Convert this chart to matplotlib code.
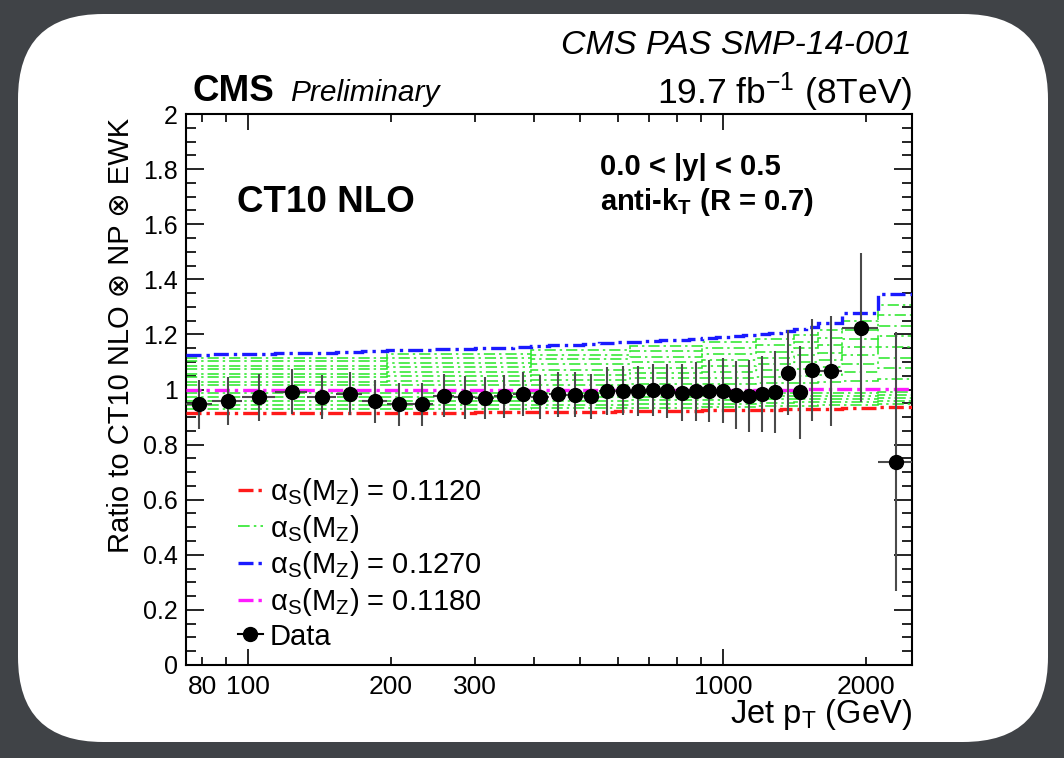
import matplotlib
matplotlib.use('Agg')
import matplotlib.pyplot as plt
from matplotlib.patches import FancyBboxPatch, Rectangle
from matplotlib.lines import Line2D
from matplotlib.ticker import MultipleLocator
import numpy as np

plt.rcParams['font.family'] = ['Liberation Sans', 'DejaVu Sans']
plt.rcParams['mathtext.fontset'] = 'custom'
plt.rcParams['mathtext.rm'] = 'Liberation Sans'
plt.rcParams['mathtext.it'] = 'Liberation Sans:italic'
plt.rcParams['mathtext.bf'] = 'Liberation Sans:bold'

# ---------------- data ----------------
bin_edges = [74, 84, 97, 114, 133, 153, 174, 196, 220, 245, 272, 300, 330, 362,
             395, 430, 468, 507, 548, 592, 638, 686, 737, 790, 846, 905, 967,
             1032, 1101, 1172, 1248, 1327, 1410, 1497, 1588, 1784, 2116, 2500]

data_ratio = [0.946, 0.958, 0.971, 0.992, 0.974, 0.984, 0.958, 0.947, 0.946,
              0.978, 0.971, 0.969, 0.976, 0.983, 0.974, 0.982, 0.981, 0.975,
              0.994, 0.996, 0.994, 0.998, 0.995, 0.989, 0.994, 0.994, 0.995,
              0.980, 0.976, 0.983, 0.990, 1.061, 0.990, 1.070, 1.068, 1.224,
              0.738]
data_err = [0.088, 0.086, 0.084, 0.082, 0.080, 0.078, 0.078, 0.078, 0.078,
            0.078, 0.077, 0.077, 0.078, 0.080, 0.080, 0.082, 0.082, 0.083,
            0.088, 0.090, 0.092, 0.095, 0.098, 0.102, 0.107, 0.112, 0.118,
            0.122, 0.130, 0.138, 0.148, 0.155, 0.168, 0.185, 0.200, 0.270,
            0.470]

as_1120 = [0.913, 0.913, 0.914, 0.914, 0.914, 0.915, 0.915, 0.915, 0.916,
           0.916, 0.916, 0.917, 0.917, 0.918, 0.918, 0.919, 0.919, 0.920,
           0.920, 0.921, 0.921, 0.922, 0.922, 0.923, 0.923, 0.924, 0.924,
           0.925, 0.926, 0.926, 0.927, 0.928, 0.928, 0.929, 0.930, 0.932,
           0.937]
as_1270 = [1.126, 1.128, 1.130, 1.132, 1.134, 1.136, 1.139, 1.142, 1.144,
           1.146, 1.148, 1.150, 1.152, 1.155, 1.158, 1.160, 1.163, 1.166,
           1.168, 1.171, 1.174, 1.176, 1.179, 1.181, 1.184, 1.187, 1.190,
           1.193, 1.197, 1.202, 1.206, 1.214, 1.220, 1.228, 1.242, 1.278,
           1.347]
as_1180 = [1.000, 1.000, 1.000, 1.000, 1.000, 1.000, 1.000, 1.000, 1.000,
           1.000, 1.000, 1.000, 1.000, 1.000, 1.000, 1.000, 1.000, 1.000,
           1.000, 1.000, 1.000, 1.000, 1.000, 1.000, 1.000, 1.000, 1.000,
           1.000, 1.000, 1.000, 1.000, 1.000, 1.000, 1.001, 1.001, 1.001,
           1.002]

# intermediate alpha_s variations (drawn on coarser pT segments)
green_edges = [74, 196, 395, 638, 905, 1172, 1410, 1588, 1784, 2116, 2500]
as_1130 = [0.928, 0.930, 0.932, 0.934, 0.937, 0.939, 0.941, 0.942, 0.943, 0.948]
as_1140 = [0.943, 0.944, 0.945, 0.947, 0.949, 0.951, 0.953, 0.953, 0.955, 0.958]
as_1150 = [0.957, 0.958, 0.959, 0.961, 0.962, 0.964, 0.965, 0.965, 0.966, 0.969]
as_1160 = [0.971, 0.972, 0.973, 0.974, 0.975, 0.976, 0.976, 0.977, 0.977, 0.979]
as_1170 = [0.986, 0.986, 0.986, 0.987, 0.987, 0.988, 0.988, 0.988, 0.989, 0.990]
as_1190 = [1.015, 1.016, 1.018, 1.020, 1.021, 1.023, 1.025, 1.027, 1.031, 1.039]
as_1200 = [1.029, 1.032, 1.036, 1.040, 1.043, 1.046, 1.050, 1.054, 1.062, 1.077]
as_1210 = [1.044, 1.049, 1.054, 1.059, 1.064, 1.069, 1.075, 1.081, 1.093, 1.116]
as_1220 = [1.058, 1.065, 1.072, 1.079, 1.085, 1.092, 1.100, 1.108, 1.124, 1.154]
as_1230 = [1.073, 1.081, 1.091, 1.099, 1.107, 1.114, 1.124, 1.134, 1.154, 1.193]
as_1240 = [1.087, 1.097, 1.109, 1.119, 1.128, 1.137, 1.149, 1.161, 1.185, 1.231]
as_1250 = [1.102, 1.114, 1.127, 1.138, 1.149, 1.160, 1.174, 1.188, 1.216, 1.270]
as_1260 = [1.116, 1.130, 1.145, 1.158, 1.171, 1.183, 1.199, 1.215, 1.247, 1.308]
green_series = [as_1130, as_1140, as_1150, as_1160, as_1170, as_1190, as_1200,
                as_1210, as_1220, as_1230, as_1240, as_1250, as_1260]

legend_labels = [r'α$_{\mathrm{S}}$(M$_{\mathrm{Z}}$) = 0.1120',
                 r'α$_{\mathrm{S}}$(M$_{\mathrm{Z}}$)',
                 r'α$_{\mathrm{S}}$(M$_{\mathrm{Z}}$) = 0.1270',
                 r'α$_{\mathrm{S}}$(M$_{\mathrm{Z}}$) = 0.1180',
                 'Data']

y_ticks = [0, 0.2, 0.4, 0.6, 0.8, 1.0, 1.2, 1.4, 1.6, 1.8, 2.0]
y_ticklabels = ['0', '0.2', '0.4', '0.6', '0.8', '1', '1.2', '1.4', '1.6', '1.8', '2']
x_major = [100, 1000]
x_major_labels = ['100', '1000']
x_minor = [80, 90, 200, 300, 400, 500, 600, 700, 800, 900, 2000]
x_minor_labels = ['80', '', '200', '300', '', '', '', '', '', '', '2000']

# ---------------- figure ----------------
W, H = 1064, 758
fig = plt.figure(figsize=(W / 100, H / 100), dpi=100)
bg = fig.add_axes([0, 0, 1, 1], zorder=0)
bg.set_xlim(0, W)
bg.set_ylim(H, 0)
bg.axis('off')
bg.add_patch(Rectangle((0, 0), W, H, facecolor='#404347', edgecolor='none'))
bg.add_patch(FancyBboxPatch((18, 14), 1030, 728,
                            boxstyle='round,pad=0,rounding_size=85',
                            facecolor='white', edgecolor='none'))

L, R, T, B = 186, 912, 114, 665
ax = fig.add_axes([L / W, 1 - B / H, (R - L) / W, (B - T) / H], zorder=1)
ax.set_xscale('log')
ax.set_xlim(bin_edges[0], bin_edges[-1])
ax.set_ylim(0, 2)

thick_dash = (0, (4.5, 1.5, 1.0, 1.5))
thin_dash = (0, (7, 2.5, 1.5, 2.5))
green_col = '#2ee82e'

for g in green_series:
    ax.stairs(g, green_edges, baseline=None, color=green_col, lw=1.15,
              linestyle=thin_dash, zorder=2)
ax.stairs(as_1120, bin_edges, baseline=None, color='#ff1a1a', lw=2.4,
          linestyle=thick_dash, zorder=3)
ax.stairs(as_1270, bin_edges, baseline=None, color='#1a1aff', lw=2.4,
          linestyle=thick_dash, zorder=3)
ax.stairs(as_1180, bin_edges, baseline=None, color='#ff1aff', lw=2.4,
          linestyle=thick_dash, zorder=3)

edges = np.array(bin_edges, dtype=float)
lo, hi = edges[:-1], edges[1:]
xc = 0.5 * (lo + hi)
ax.errorbar(xc, data_ratio, yerr=data_err, xerr=[xc - lo, hi - xc], fmt='o',
            color='black', ms=10, ecolor='#4a4a4a', elinewidth=1.5,
            capsize=0, zorder=5)

# ticks
ax.tick_params(which='both', direction='in', top=True, right=True,
               width=1.2, colors='black')
ax.tick_params(axis='y', which='major', length=13, labelsize=18, pad=6)
ax.tick_params(axis='y', which='minor', length=7)
ax.tick_params(axis='x', which='major', length=11.5, labelsize=19, pad=7)
ax.tick_params(axis='x', which='minor', length=5.5, labelsize=19, pad=7)
ax.set_yticks(y_ticks, labels=y_ticklabels)
ax.yaxis.set_minor_locator(MultipleLocator(0.05))
ax.set_xticks(x_major, labels=x_major_labels)
ax.set_xticks(x_minor, labels=x_minor_labels, minor=True)
for s in ax.spines.values():
    s.set_linewidth(1.5)

# legend
handles = [Line2D([], [], color='#ff1a1a', lw=2.4, ls=thick_dash),
           Line2D([], [], color=green_col, lw=1.2, ls=thin_dash),
           Line2D([], [], color='#1a1aff', lw=2.4, ls=thick_dash),
           Line2D([], [], color='#ff1aff', lw=2.4, ls=thick_dash),
           Line2D([], [], color='black', lw=1.5, marker='o', ms=10)]
ax.legend(handles, legend_labels, loc='upper left', bbox_to_anchor=(238, 476),
          bbox_transform=bg.transData, frameon=False, fontsize=21,
          handlelength=0.85, handletextpad=0.25, labelspacing=0.16,
          borderpad=0, borderaxespad=0)

# texts inside plot
ax.text(237, 212, 'CT10 NLO', transform=bg.transData, fontsize=26.5,
        fontweight='bold', va='baseline', ha='left')
ax.text(600, 175, '0.0 < |y| < 0.5', transform=bg.transData, fontsize=21,
        fontweight='bold', va='baseline', ha='left')
ax.text(600, 210, r'anti-k$_{\mathbf{T}}$ (R = 0.7)', transform=bg.transData,
        fontsize=21, fontweight='bold', va='baseline', ha='left')

# texts outside
bg.text(912, 54, 'CMS PAS SMP-14-001', ha='right', va='baseline', fontsize=24.5,
        style='italic')
bg.text(912, 104, r'19.7 fb$^{\mathrm{-1}}$ (8TeV)', ha='right', va='baseline',
        fontsize=25.5)
bg.text(192, 101, 'CMS', fontweight='bold', fontsize=26.5, va='baseline')
bg.text(290, 101, 'Preliminary', style='italic', fontsize=21.5, va='baseline')
bg.text(121, 118, 'Ratio to CT10 NLO ⊗ NP ⊗ EWK', rotation=90, ha='center',
        va='top', fontsize=21)
bg.text(912, 723, r'Jet p$_{\mathrm{T}}$ (GeV)', ha='right', va='baseline',
        fontsize=23.5)

fig.savefig('out.png', dpi=100)
